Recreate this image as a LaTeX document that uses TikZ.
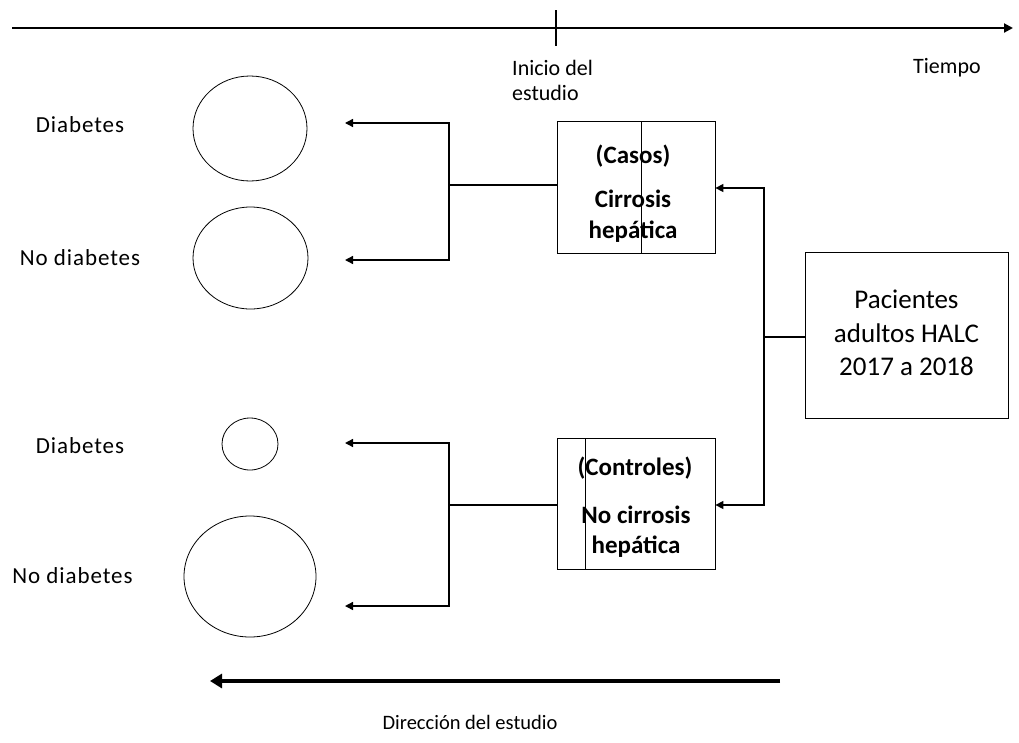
\documentclass[tikz,border=0pt]{standalone}
\usepackage{fontspec}
\setmainfont{Carlito}
\newfontfamily\spacedfont[LetterSpace=4]{Carlito}
\usetikzlibrary{arrows.meta}
\begin{document}
\begin{tikzpicture}[x=1pt,y=-1pt,
  lbl/.style={font=\spacedfont\fontsize{23}{28}\selectfont, inner sep=0pt, anchor=base},
  boxtxt/.style={font=\bfseries\fontsize{25}{31}\selectfont, align=center, inner sep=0pt, anchor=base},
  frame/.style={draw, line width=0.8pt},
  conn/.style={line width=1.4pt},
  arr/.style={conn, -{Triangle[length=8pt,width=8pt]}}]
\useasboundingbox (0,0) rectangle (1019,742);
% time axis
\coordinate (axL) at (12,28);
\coordinate (axR) at (1013,28);
\draw[line width=2pt, -{Triangle[length=9pt,width=9pt]}] (axL) -- (axR);
\coordinate (tickT) at (556,10);
\coordinate (tickB) at (556,46);
\draw[line width=2pt] (tickT) -- (tickB);
\node[inner sep=0pt, anchor=base west, font=\fontsize{22}{25}\selectfont] (inicio1) at (512,75) {Inicio del};
\node[inner sep=0pt, anchor=base west, font=\fontsize{22}{25}\selectfont] (inicio2) at (512,100) {estudio};
\node[inner sep=0pt, anchor=base west, font=\fontsize{22}{25}\selectfont] (tiempo) at (913,73) {Tiempo};

% case box
\node[frame, minimum width=158pt, minimum height=132pt] (casos) at (636,187) {};
\draw[line width=0.8pt] (641,121) -- (641,253);
\node[boxtxt] (casosT) at (633,163) {(Casos)};
\node[boxtxt] (cirr1) at (633,207) {Cirrosis};
\node[boxtxt] (cirr2) at (633,238) {hepática};

% control box
\node[frame, minimum width=158pt, minimum height=131pt] (contr) at (636,503.5) {};
\draw[line width=0.8pt] (585,438) -- (585,569);
\node[boxtxt] (contrT) at (635,475) {(Controles)};
\node[boxtxt] (nocirr1) at (636,523) {No cirrosis};
\node[boxtxt] (nocirr2) at (636,553) {hepática};

% patients box
\node[frame, minimum width=203pt, minimum height=166pt] (pac) at (906.5,335) {};
\node[inner sep=0pt, anchor=base, font=\fontsize{27}{33}\selectfont] (pac1) at (pac.center |- 0,308) {Pacientes};
\node[inner sep=0pt, anchor=base, font=\fontsize{27}{33}\selectfont] (pac2) at (pac.center |- 0,342) {adultos HALC};
\node[inner sep=0pt, anchor=base, font=\fontsize{27}{33}\selectfont] (pac3) at (pac.center |- 0,375) {2017 a 2018};

% right connectors
\coordinate (jR) at (764,337);
\coordinate (jRt) at (764,188);
\coordinate (jRb) at (764,505);
\draw[conn] (pac.west |- jR) -- (jR);
\draw[arr] (jR) -- (jRt) -- (casos.east |- jRt);
\draw[arr] (jR) -- (jRb) -- (contr.east |- jRb);

% left connectors, cases
\coordinate (jC) at (449,185);
\coordinate (jCt) at (449,123);
\coordinate (jCb) at (449,260);
\coordinate (eC1) at (345,123);
\coordinate (eC2) at (345,260);
\draw[conn] (casos.west |- jC) -- (jC);
\draw[arr] (jC) -- (jCt) -- (eC1);
\draw[arr] (jC) -- (jCb) -- (eC2);

% left connectors, controls
\coordinate (jK) at (449,505);
\coordinate (jKt) at (449,443);
\coordinate (jKb) at (449,606);
\coordinate (eK1) at (345,443);
\coordinate (eK2) at (345,606);
\draw[conn] (contr.west |- jK) -- (jK);
\draw[arr] (jK) -- (jKt) -- (eK1);
\draw[arr] (jK) -- (jKb) -- (eK2);

% circles
\draw[line width=0.8pt] (250,128.5) ellipse [x radius=57, y radius=52.5];
\draw[line width=0.8pt] (250.5,258) ellipse [x radius=57.5, y radius=51];
\draw[line width=0.8pt] (250,444) ellipse [x radius=28, y radius=26];
\draw[line width=0.8pt] (250,576.5) ellipse [x radius=66, y radius=60.5];

% labels
\node[lbl] (d1) at (80,132) {Diabetes};
\node[lbl] (n1) at (80,265) {No diabetes};
\node[lbl] (d2) at (80,453) {Diabetes};
\node[lbl] (n2) at (72.5,583) {No diabetes};

% study direction
\coordinate (dR) at (780,681);
\coordinate (dL) at (210,681);
\draw[line width=4pt, -{Triangle[length=12pt,width=14pt]}] (dR) -- (dL);
\node[inner sep=0pt, anchor=base, font=\fontsize{20.5}{25}\selectfont] (dir) at (470,729) {Dirección del estudio};
\end{tikzpicture}
\end{document}
